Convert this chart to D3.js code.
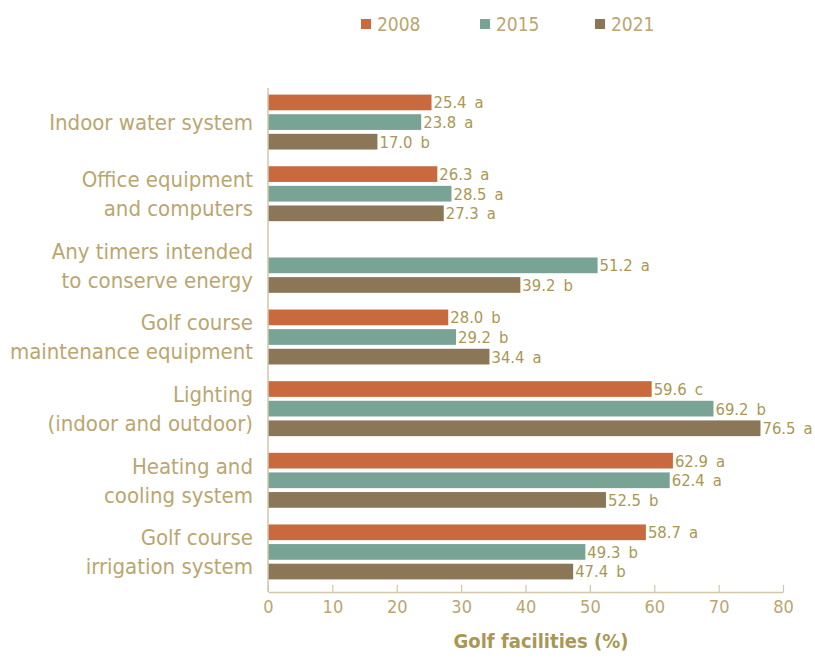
<!DOCTYPE html>
<html><head><meta charset="utf-8">
<script src="https://cdn.jsdelivr.net/npm/d3@7/dist/d3.min.js"></script>
<style>
body{margin:0;background:#fff;}
svg text{font-family:"DejaVu Sans Condensed","Liberation Sans Narrow",sans-serif;}
</style></head>
<body><svg id="c" width="815" height="663"></svg>
<script>
const categories = [
  ["Indoor water system"],
  ["Office equipment","and computers"],
  ["Any timers intended","to conserve energy"],
  ["Golf course","maintenance equipment"],
  ["Lighting","(indoor and outdoor)"],
  ["Heating and","cooling system"],
  ["Golf course","irrigation system"]
];
const years = ["2008","2015","2021"];
const values2008 = [25.4, 26.3, null, 28.0, 59.6, 62.9, 58.7];
const values2015 = [23.8, 28.5, 51.2, 29.2, 69.2, 62.4, 49.3];
const values2021 = [17.0, 27.3, 39.2, 34.4, 76.5, 52.5, 47.4];
const letters2008 = ["a","a",null,"b","c","a","a"];
const letters2015 = ["a","a","a","b","b","a","b"];
const letters2021 = ["b","a","b","a","a","b","b"];
const xTicks = [0,10,20,30,40,50,60,70,80];

(function(){
const colors = {"2008":"#c96a3e","2015":"#79a394","2021":"#8b7658"};
const textCol = "#bba670";
const valCol = "#aa9753";

const svg = d3.select("#c");
const mLeft = 268, mRight = 783, mTop = 86, mBottom = 588, axisY = 592;
const series = {"2008":[values2008,letters2008],"2015":[values2015,letters2015],"2021":[values2021,letters2021]};
const catKeys = categories.map((c,i)=>i);

const x = d3.scaleLinear().domain([0,80]).range([mLeft,mRight]);
const y0 = d3.scaleBand().domain(catKeys).range([mTop,mBottom]).paddingInner(0.233).paddingOuter(0.12);
const y1 = d3.scaleBand().domain(years).range([0,y0.bandwidth()]).paddingInner(0.2);

const g = svg.append("g");
catKeys.forEach(i=>{
  years.forEach(yr=>{
    const v = series[yr][0][i];
    if (v==null) return;
    const yy = y0(i)+y1(yr);
    g.append("rect").attr("x",x(0)).attr("y",yy).attr("width",x(v)-x(0)).attr("height",y1.bandwidth()).attr("fill",colors[yr]);
    const t = g.append("text").attr("x",x(v)+2).attr("y",yy+y1.bandwidth()/2).attr("dy","0.36em")
      .attr("fill",valCol).attr("font-size",16.5);
    t.append("tspan").text(v.toFixed(1));
    t.append("tspan").attr("dx",8).text(series[yr][1][i]);
  });
});

catKeys.forEach(i=>{
  const lines = categories[i];
  const cy = y0(i)+y0.bandwidth()/2;
  const lh = 29;
  lines.forEach((ln,j)=>{
    svg.append("text").attr("x",253).attr("y",cy+(j-(lines.length-1)/2)*lh).attr("dy","0.36em")
      .attr("text-anchor","end").attr("fill",textCol).attr("font-size",22).text(ln);
  });
});

svg.append("line").attr("x1",mLeft).attr("x2",mLeft).attr("y1",88).attr("y2",axisY).attr("stroke","#d2c7a8").attr("stroke-width",1.5);

const xa = svg.append("g").attr("transform",`translate(0,${axisY})`)
  .call(d3.axisBottom(x).tickValues(xTicks).tickSizeInner(-7).tickSizeOuter(0).tickPadding(8));
xa.select(".domain").attr("stroke","#d2c7a8").attr("stroke-width",1.5);
xa.selectAll(".tick line").attr("stroke","#d2c7a8").attr("stroke-width",1.2);
xa.selectAll(".tick text").attr("fill",textCol).attr("font-size",18).attr("font-family",null);

svg.append("text").attr("x",541).attr("y",641).attr("dy","0.36em").attr("text-anchor","middle")
  .attr("fill",valCol).attr("font-size",20).attr("font-weight","bold").text("Golf facilities (%)");

const legX = [361,480,595];
years.forEach((yr,i)=>{
  svg.append("rect").attr("x",legX[i]).attr("y",19).attr("width",10).attr("height",10).attr("fill",colors[yr]);
  svg.append("text").attr("x",legX[i]+16).attr("y",24).attr("dy","0.36em").attr("fill",textCol).attr("font-size",19).text(yr);
});
})();
</script></body></html>
